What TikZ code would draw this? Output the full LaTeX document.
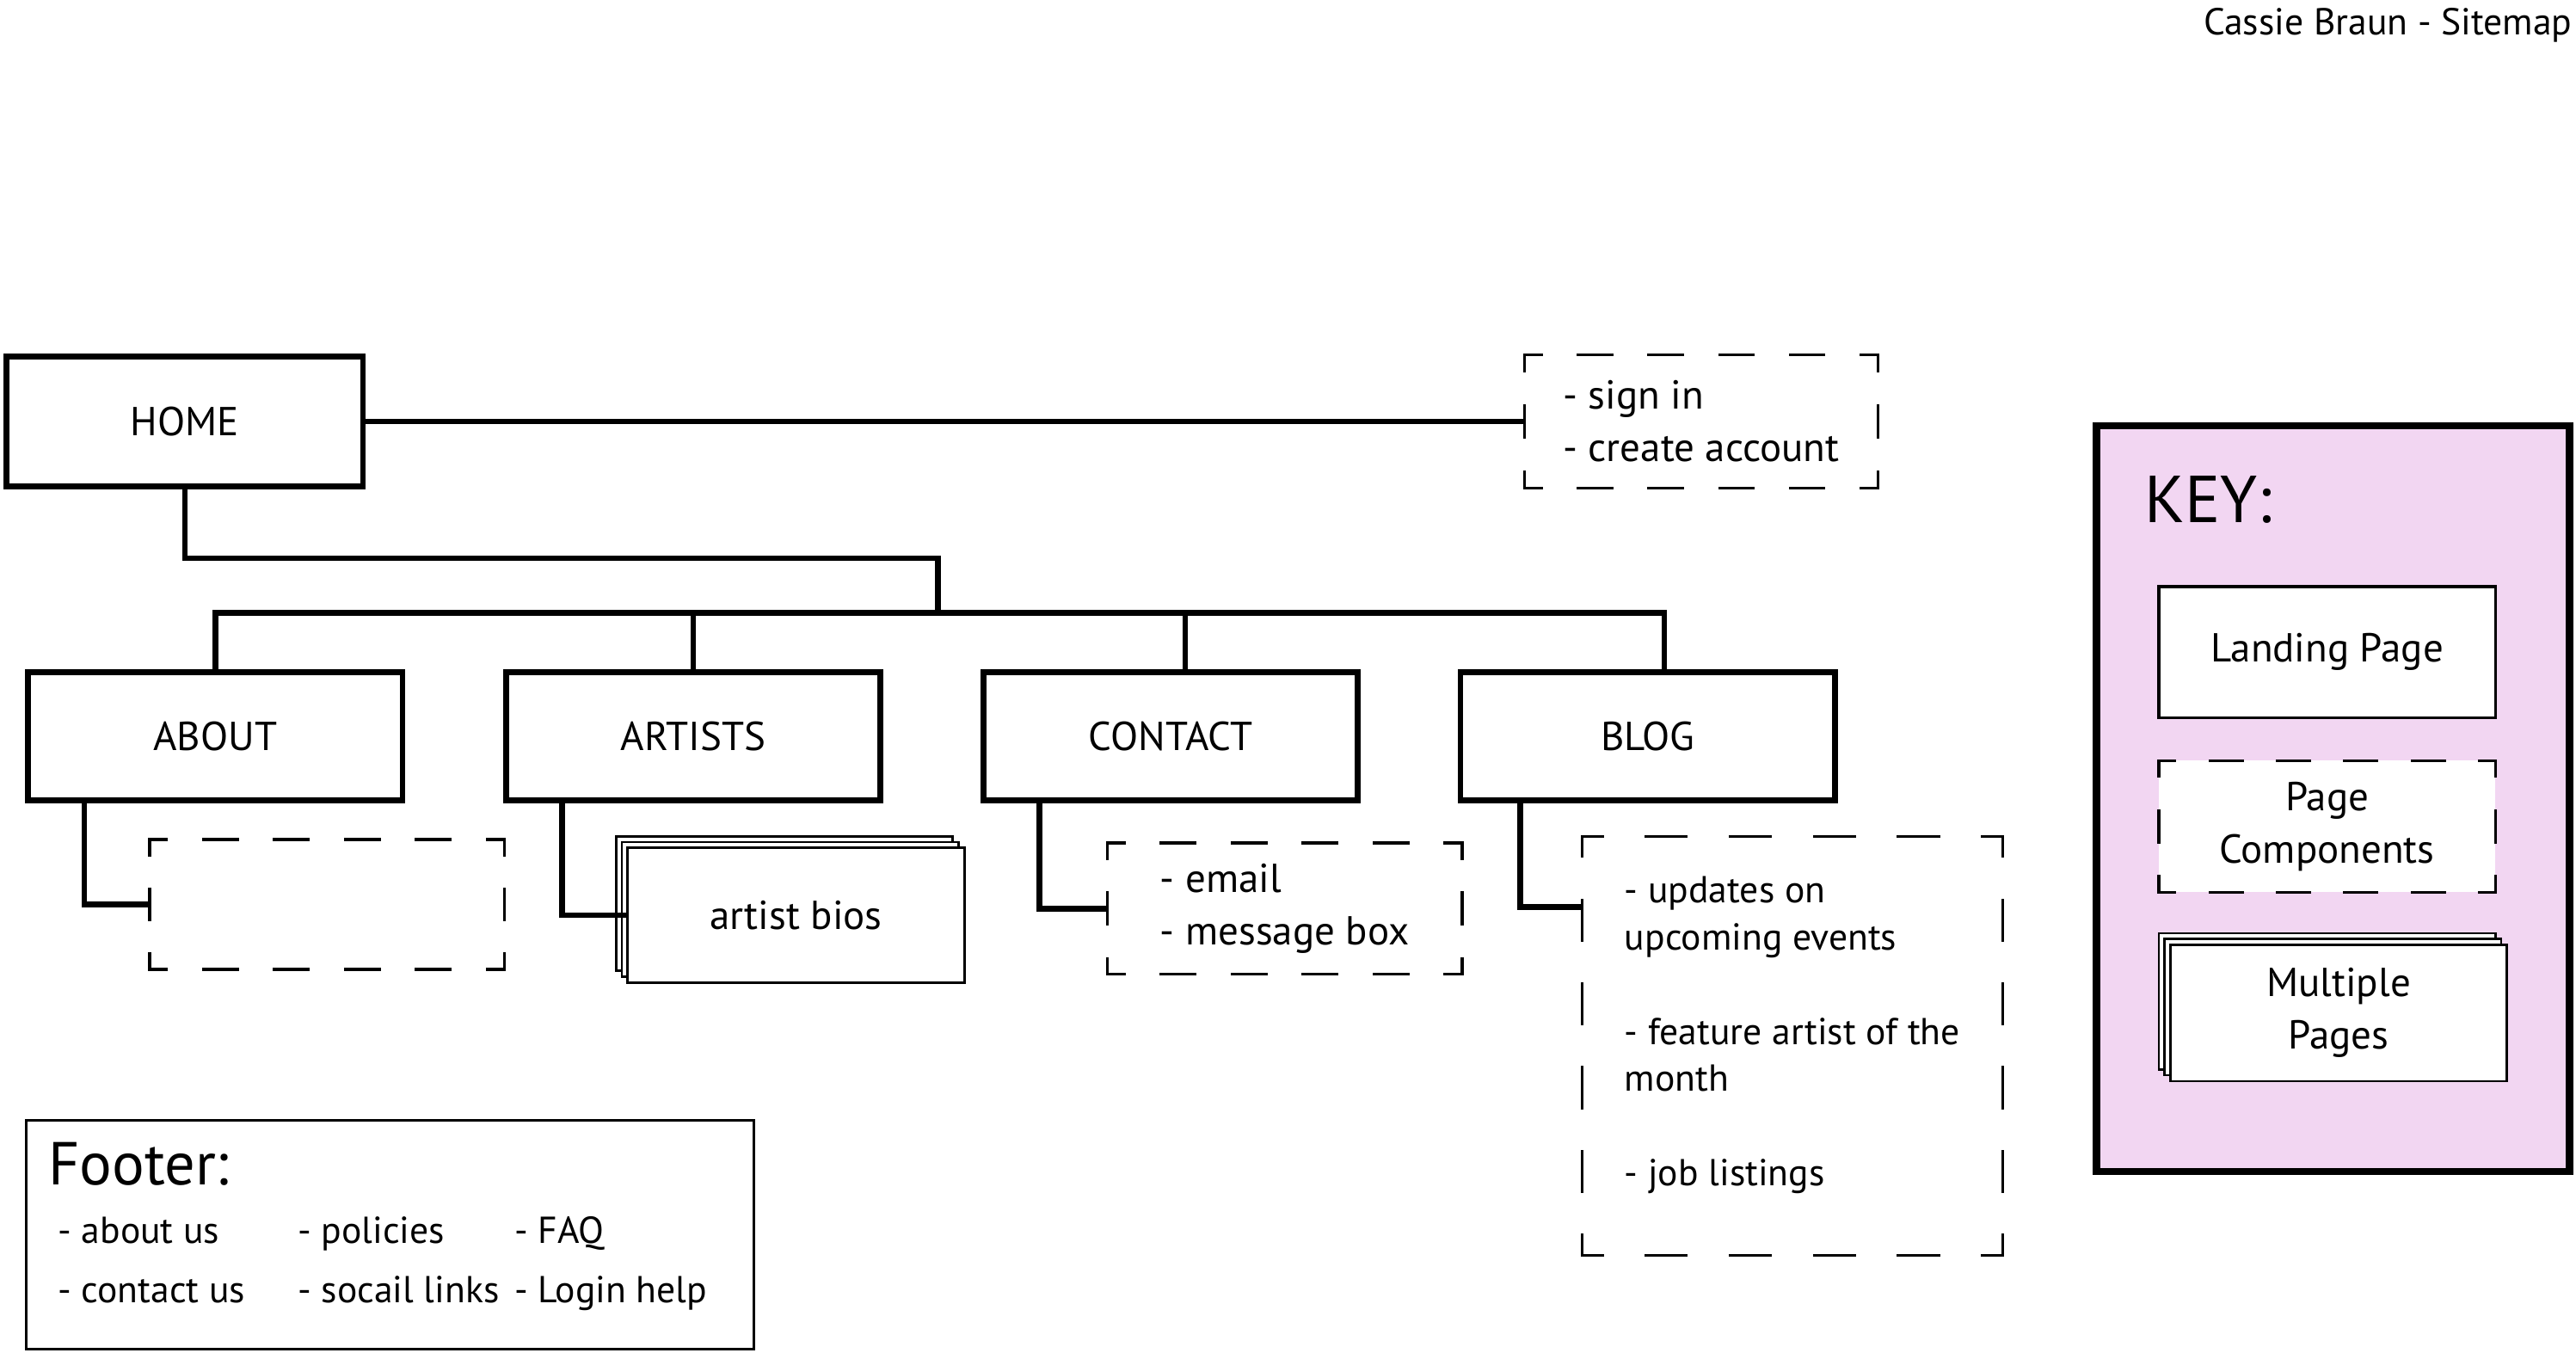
\documentclass[tikz,border=0pt]{standalone}
\usepackage{fontspec}
\setmainfont{PT Sans}
\usetikzlibrary{positioning,calc,shadows}

\definecolor{keypink}{RGB}{242,214,242}

% one side of a dashed frame, dashes fitted so the corners get half dashes
\newcommand{\dashside}[4]{%
  \pgfpointdiff{\pgfpointanchor{#1}{#2}}{\pgfpointanchor{#1}{#3}}%
  \pgfgetlastxy{\sidex}{\sidey}%
  \pgfmathsetmacro\sidelen{veclen(\sidex,\sidey)}%
  \pgfmathsetmacro\sideper{\sidelen/max(1,round(\sidelen/#4))}%
  \pgfmathsetmacro\sideon{0.48*\sideper}%
  \pgfmathsetmacro\sideoff{\sideper-\sideon}%
  \pgfmathsetmacro\sidephase{\sideon/2}%
  \draw[line width=1pt,line cap=rect,dash pattern=on \sideon pt off \sideoff pt,dash phase=\sidephase pt] (#1.#2) -- (#1.#3);
}
\newcommand{\partsframe}[2]{%
  \dashside{#1}{north west}{north east}{#2}
  \dashside{#1}{north east}{south east}{#2}
  \dashside{#1}{south east}{south west}{#2}
  \dashside{#1}{south west}{north west}{#2}
}

\begin{document}
\begin{tikzpicture}[x=0.02cm,y=-0.02cm,
    every node/.style={font=\fontsize{14}{18.2}\selectfont},
    txt/.style={anchor=base west,inner sep=0pt},
    mainpage/.style={draw=black,line width=2pt,fill=white,minimum width=4.56cm,minimum height=1.56cm},
    parts/.style={fill=white,outer sep=0pt,align=left},
    pages/.style={draw=black,line width=0.8pt,fill=white,minimum width=4.1cm,minimum height=1.64cm,align=center,
        copy shadow={shadow xshift=-4pt,shadow yshift=4pt},
        copy shadow={shadow xshift=-2pt,shadow yshift=2pt}},
    conn/.style={line width=2pt}]

    \useasboundingbox (0,0) rectangle (1568,823);

    % Title
    \node[anchor=base east,inner sep=0pt,font=\fontsize{13}{16}\selectfont] (title) at (1566,21) {Cassie Braun - Sitemap};

    % Main pages
    \node[mainpage,minimum width=4.34cm,minimum height=1.58cm] (home) at (112.5,256.5) {HOME};
    \node[mainpage] (about) at (131,448) {ABOUT};
    \node[mainpage] (artists) at (422,448) {ARTISTS};
    \node[mainpage] (contact) at (712.5,448) {CONTACT};
    \node[mainpage] (blog) at (1003,448) {BLOG};

    % Page components and sub pages
    \node[parts,minimum width=4.3cm,minimum height=1.62cm] (login) at (1035.5,256.5) {- sign in\\- create account};
    \node[parts,minimum width=4.32cm,minimum height=1.58cm] (aboutparts) at (199,550.5) {};
    \node[pages] (bios) at (484.5,557) {artist bios};
    \node[parts,minimum width=4.32cm,minimum height=1.6cm] (contactparts) at (782,553) {- email\\- message box};
    \node[parts,minimum width=5.12cm,minimum height=5.1cm,font=\fontsize{13}{16.3}\selectfont] (blogparts) at (1091,630)
        {- updates on\\upcoming events\\[16.3pt]- feature artist of the\\month\\[16.3pt]- job listings};
    \partsframe{login}{25.5}
    \partsframe{aboutparts}{25.5}
    \partsframe{contactparts}{25.5}
    \path (blogparts.center) ++(0,6.5) node[minimum width=5.12cm,minimum height=5.1cm,outer sep=0pt] (blogframe) {};
    \partsframe{blogframe}{29}

    % Connectors
    \coordinate (hub) at (571,373);
    \draw[conn] (home.east) -- (login.west);
    \draw[conn] (home.south) -- ++(0,42) -| (hub);
    \draw[conn] (about.north) |- (hub) -| ($(blog.north)+(10,0)$);
    \draw[conn] (artists.north) -- (artists.north |- hub);
    \draw[conn] ($(contact.north)+(9,0)$) -- ($(contact.north |- hub)+(9,0)$);
    \draw[conn] ($(about.south west)+(36,0)$) |- (aboutparts.west);
    \draw[conn] ($(artists.south west)+(36,0)$) |- (bios.west);
    \draw[conn] ($(contact.south west)+(36,0)$) |- (contactparts.west);
    \draw[conn] ($(blog.south west)+(38,0)$) |- ($(blogframe.north west)+(0,43)$);

    % Footer
    \node[draw=black,line width=1pt,minimum width=8.86cm,minimum height=2.78cm] (footer) at (237.5,751.5) {};
    \node[txt,font=\fontsize{21}{26}\selectfont] (foottitle) at (29,721) {Footer:};
    \node[txt,font=\fontsize{13}{16}\selectfont] (f1) at (35,757) {- about us};
    \node[txt,font=\fontsize{13}{16}\selectfont] (f2) at (181,757) {- policies};
    \node[txt,font=\fontsize{13}{16}\selectfont] (f3) at (313,757) {- FAQ};
    \node[txt,font=\fontsize{13}{16}\selectfont] (f4) at (35,793) {- contact us};
    \node[txt,font=\fontsize{13}{16}\selectfont] (f5) at (181,793) {- socail links};
    \node[txt,font=\fontsize{13}{16}\selectfont] (f6) at (313,793) {- Login help};

    % Key
    \node[draw=black,line width=2.5pt,fill=keypink,minimum width=5.76cm,minimum height=9.08cm] (key) at (1420,486) {};
    \node[txt,font=\fontsize{23}{28}\selectfont] (keytitle) at (1305,318) {KEY:};
    \node[draw=black,line width=1pt,fill=white,minimum width=4.1cm,minimum height=1.6cm] (keylanding) at (1416.5,397) {Landing Page};
    \node[parts,align=center,minimum width=4.1cm,minimum height=1.6cm] (keyparts) at (1416.5,503) {Page\\Components};
    \partsframe{keyparts}{23}
    \node[pages,minimum height=1.66cm] (keypages) at (1423.5,616.5) {Multiple\\Pages};

\end{tikzpicture}
\end{document}
